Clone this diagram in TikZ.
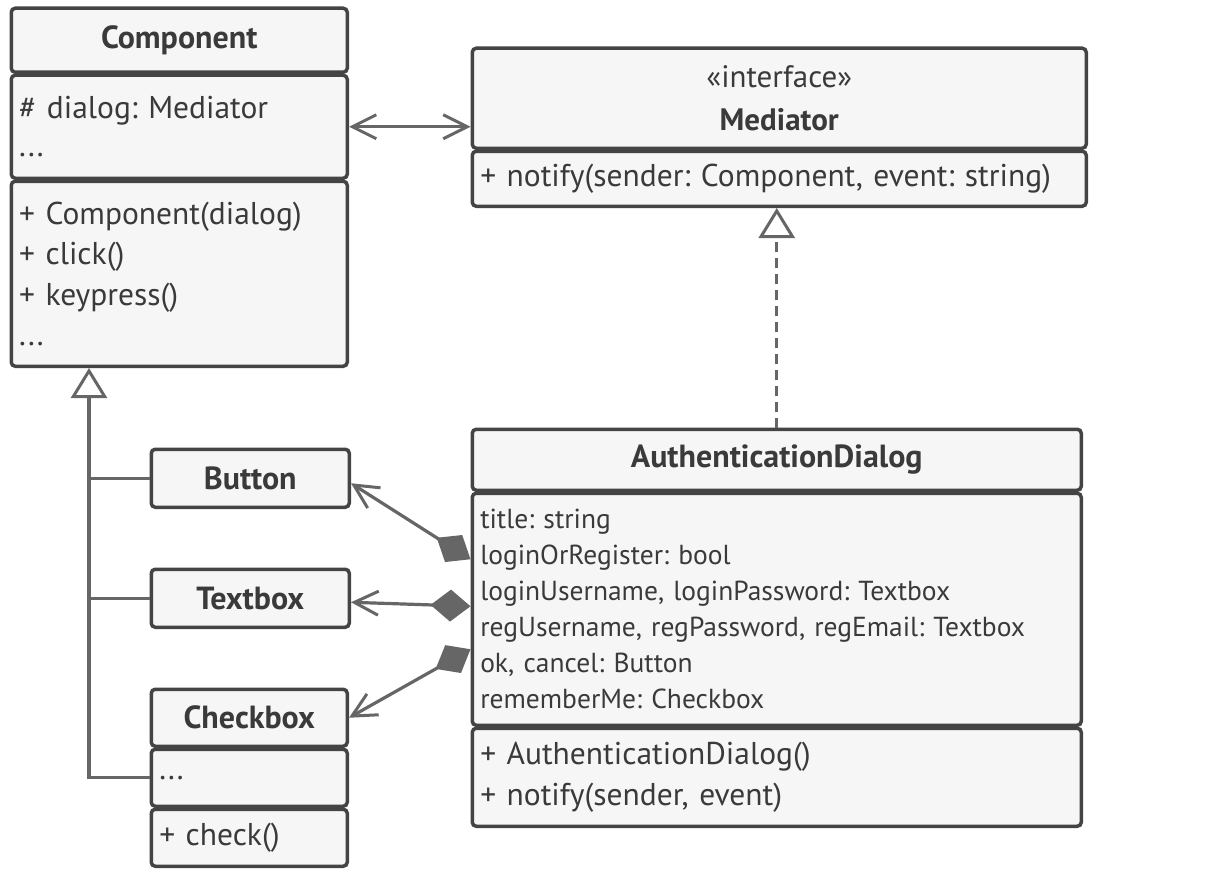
\documentclass[tikz,border=0pt]{standalone}
\usepackage{fontspec}
\setmainfont{PT Sans}
\usetikzlibrary{arrows.meta,calc}
\frenchspacing
\definecolor{boxline}{HTML}{444444}
\definecolor{arrowline}{HTML}{666666}
\definecolor{boxfill}{HTML}{F6F6F6}
\definecolor{boxtext}{HTML}{3A3A3A}
\tikzset{
  barb/.tip={Straight Barb[length=24pt,width=24pt,line width=3pt]},
  hollow/.tip={Triangle[open,length=30pt,width=36pt,line width=3pt,fill=white]},
  filleddiamond/.tip={Diamond[length=40pt,width=32pt,line width=0pt,fill=arrowline]}
}

\begin{document}
\begin{tikzpicture}[x=1pt,y=-1pt,
  part/.style={draw=boxline, fill=boxfill, line width=3.5pt, rounded corners=4pt,
    anchor=north west, inner xsep=8pt, inner ysep=0pt, text=boxtext},
  title/.style={part, font=\fontsize{32}{42}\selectfont\bfseries, align=center},
  members/.style={part, font=\fontsize{31.5}{40.5}\selectfont, align=left},
  smallmembers/.style={part, font=\fontsize{27.5}{36}\selectfont, align=left},
  link/.style={draw=arrowline, line width=3.2pt},
  gen/.style={link, -hollow},
  comp/.style={link, filleddiamond-barb}
]
\useasboundingbox (0,0) rectangle (1206,872);

% Component
\node[title, minimum width=336, minimum height=64] (compt) at (9.5,6.5) {Component};
\node[members, minimum width=336, minimum height=103, text width=320] (compf) at (9.5,73.5)
  {\# dialog: Mediator\\[-2pt]...};
\node[members, minimum width=336, minimum height=185, text width=320] (compm) at (9.5,179.5)
  {+ Component(dialog)\\+ click()\\+ keypress()\\...};

% Mediator
\node[part, align=center, font=\fontsize{31}{43}\selectfont, minimum width=614, minimum height=100] (medt) at (470.5,46.5)
  {«interface»\\\textbf{Mediator}};
\node[members, minimum width=614, minimum height=55, text width=598] (medf) at (470.5,149.5)
  {+ notify(sender: Component, event: string)};

% components
\node[title, minimum width=198, minimum height=58] (button) at (149.5,447.5) {Button};
\node[title, minimum width=198, minimum height=58] (textbox) at (149.5,567.5) {Textbox};
\node[title, minimum width=196, minimum height=57] (chkt) at (149.5,687.5) {Checkbox};
\node[members, minimum width=196, minimum height=57, text width=180] (chkf) at (149.5,747.5) {...};
\node[members, minimum width=196, minimum height=57, text width=180] (chkm) at (149.5,807.5) {+ check()};

% AuthenticationDialog
\node[title, minimum width=609, minimum height=61] (autht) at (470.5,427.5) {AuthenticationDialog};
\node[smallmembers, minimum width=609, minimum height=232, text width=593] (authf) at (470.5,491.5)
  {title: string\\loginOrRegister: bool\\loginUsername, loginPassword: Textbox\\regUsername, regPassword, regEmail: Textbox\\ok, cancel: Button\\rememberMe: Checkbox};
\node[members, minimum width=609, minimum height=98, text width=593] (authm) at (470.5,726.5)
  {+ AuthenticationDialog()\\+ notify(sender, event)};

% association
\draw[link, barb-barb] (compf.east) -- (compf.east -| medt.west);

% inheritance
\coordinate (trunk) at ($(compm.south west)+(79.5,0)$);
\draw[gen] (chkf.west) -| (trunk);
\draw[link] (button.west) -- (button.west -| trunk);
\draw[link] (textbox.west) -- (textbox.west -| trunk);

% realization
\draw[gen, dash pattern=on 10pt off 6pt] (autht.north) -- (autht.north |- medf.south);

% composition
\draw[comp] ([yshift=50pt]authf.west) -- ([yshift=-5pt]button.east);
\draw[comp] ([yshift=3pt]authf.west) -- ([yshift=-4pt]textbox.east);
\draw[comp] ([yshift=-40pt]authf.west) -- (chkt.east);

\end{tikzpicture}
\end{document}
